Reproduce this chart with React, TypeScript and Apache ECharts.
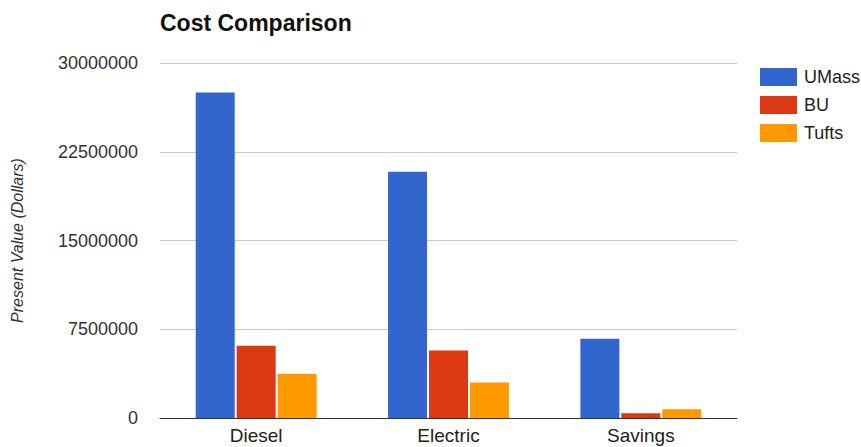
import React, { useEffect, useRef } from "react";
import * as echarts from "echarts";

const categories = ["Diesel", "Electric", "Savings"];
const seriesNames = ["UMass", "BU", "Tufts"];
const umass = [27500000, 20800000, 6700000];
const bu = [6100000, 5700000, 400000];
const tufts = [3750000, 3000000, 750000];
const colors = ["#3366CC", "#DC3912", "#FF9900"];

export default function App() {
  const ref = useRef<HTMLDivElement>(null);
  useEffect(() => {
    if (!ref.current) return;
    const chart = echarts.init(ref.current, null, { renderer: "svg" });
    const data = [umass, bu, tufts];
    chart.setOption({
      animation: false,
      backgroundColor: "#ffffff",
      color: colors,
      title: {
        text: "Cost Comparison",
        left: 155,
        top: 6,
        textStyle: { fontFamily: "Liberation Sans, Arial", fontSize: 23, fontWeight: "bold", color: "#111" },
      },
      legend: {
        orient: "vertical",
        left: 755,
        top: 63,
        itemWidth: 37,
        itemHeight: 18,
        itemGap: 10,
        icon: "rect",
        data: seriesNames,
        textStyle: { fontFamily: "Liberation Sans, Arial", fontSize: 18, color: "#222", padding: [0, 0, 0, 2] },
      },
      grid: { left: 160, right: 124, top: 63, bottom: 29, containLabel: false },
      xAxis: {
        type: "category",
        data: categories,
        axisTick: { show: false },
        axisLine: { lineStyle: { color: "#333", width: 1 } },
        axisLabel: { fontFamily: "Liberation Sans, Arial", fontSize: 19, color: "#222", margin: 8 },
      },
      yAxis: {
        type: "value",
        min: 0,
        max: 30000000,
        interval: 7500000,
        name: "Present Value (Dollars)",
        nameLocation: "middle",
        nameGap: 135,
        nameTextStyle: { fontFamily: "Liberation Sans, Arial", fontSize: 16, fontStyle: "italic", color: "#333" },
        axisLine: { show: false },
        axisTick: { show: false },
        splitLine: { lineStyle: { color: "#cccccc", width: 1 } },
        axisLabel: {
          fontFamily: "Liberation Sans, Arial",
          fontSize: 18,
          color: "#333",
          margin: 22,
          formatter: (v: number) => String(v),
        },
      },
      series: seriesNames.map((name, i) => ({
        name,
        type: "bar",
        data: data[i],
        barWidth: 39,
        barGap: "5%",
        itemStyle: { color: colors[i] },
      })),
    });
    return () => chart.dispose();
  }, []);
  return <div ref={ref} style={{ width: 861, height: 447, position: "absolute", left: 0, top: 0 }} />;
}
